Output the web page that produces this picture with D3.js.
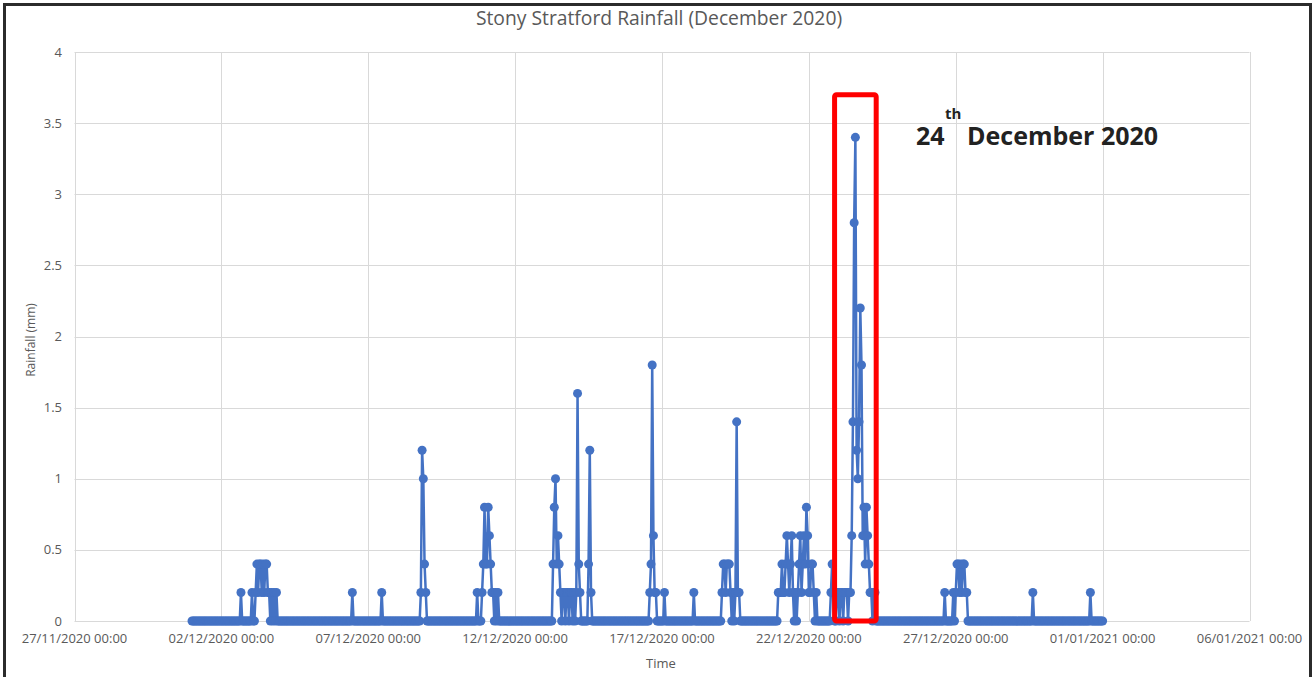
<!DOCTYPE html>
<html lang="en">
<head>
<meta charset="UTF-8">
<title>Stony Stratford Rainfall</title>
<style>
    body { margin: 0; background: #fff; }
    svg { display: block; }
    text { font-family: "Open Sans", sans-serif; fill: #595959; }
    .grid line { stroke: #d9d9d9; stroke-width: 1; }
    .note { fill: #222; font-weight: bold; }
</style>
</head>
<body>
<svg width="1314" height="677"></svg>

<script src="https://d3js.org/d3.v7.min.js"></script>
<script>
    // hourly readings, Dec 2020; hours not listed below read 0 mm
    var seriesStart = "01/12/2020 00:00",
        seriesEnd = "01/01/2021 00:00";

    // each run: start hour, then consecutive hourly rainfall (mm)
    var runStarts = [
        "02/12/2020 16:00", "03/12/2020 01:00", "06/12/2020 11:00", "07/12/2020 11:00",
        "08/12/2020 19:00", "10/12/2020 17:00", "10/12/2020 21:00", "11/12/2020 10:00",
        "13/12/2020 07:00", "14/12/2020 12:00", "16/12/2020 14:00", "17/12/2020 02:00",
        "18/12/2020 02:00", "19/12/2020 01:00", "20/12/2020 23:00", "22/12/2020 18:00",
        "26/12/2020 15:00", "26/12/2020 22:00", "29/12/2020 15:00", "31/12/2020 14:00"
    ];
    var runValues = [
        [0.2],
        [0.2, 0, 0, 0.2, 0.4, 0.2, 0.4, 0.4, 0.2, 0.4, 0.2, 0.4, 0.4, 0.2, 0.2, 0, 0.2, 0, 0.2, 0, 0.2],
        [0.2],
        [0.2],
        [0.2, 1.2, 1.0, 0.4, 0.2],
        [0.2],
        [0.2, 0.4, 0.8, 0.4, 0.4, 0.8, 0.6, 0.4, 0.2, 0.2, 0, 0.2],
        [0.2],
        [0.4, 0.8, 1.0, 0.4, 0.6, 0.4, 0.2, 0, 0.2, 0.2, 0, 0.2, 0.2, 0, 0.2, 0.2, 0, 0.2, 0, 0.2, 1.6, 0.4, 0.2],
        [0.4, 1.2, 0.2],
        [0.2, 0.4, 1.8, 0.6, 0.2, 0.2],
        [0.2],
        [0.2],
        [0.2, 0.4, 0.4, 0.2, 0.4, 0.4, 0.4, 0.2, 0, 0.2, 0, 0.2, 1.4, 0.2, 0.2],
        [0.2, 0.2, 0.2, 0.4, 0.2, 0.2, 0.4, 0.6, 0.4, 0.2, 0.4, 0.6, 0.2, 0, 0.2, 0, 0.2, 0.4, 0.6, 0.2,
         0.4, 0.6, 0.4, 0.8, 0.6, 0.2, 0.2, 0.4, 0.4, 0.2, 0, 0.2],
        [0.2, 0.4, 0.2, 0, 0, 0.2, 0.2, 0, 0.2, 0.2, 0, 0.2, 0.2, 0.2, 0, 0.2, 0.2, 0.6, 1.4, 2.8, 3.4,
         1.2, 1.0, 1.4, 2.2, 1.8, 0.6, 0.8, 0.4, 0.8, 0.6, 0.4, 0.2, 0.2, 0, 0.2, 0.2],
        [0.2],
        [0.2, 0, 0.2, 0.4, 0.4, 0.2, 0.4, 0.2, 0.4, 0.4, 0.2, 0.2],
        [0.2],
        [0.2]
    ];

    var xTicks = ["27/11/2020 00:00", "02/12/2020 00:00", "07/12/2020 00:00", "12/12/2020 00:00",
        "17/12/2020 00:00", "22/12/2020 00:00", "27/12/2020 00:00", "01/01/2021 00:00", "06/01/2021 00:00"];
    var yTicks = [0, 0.5, 1, 1.5, 2, 2.5, 3, 3.5, 4];

    // red box around the big day
    var highlightFrom = "22/12/2020 21:00",
        highlightTo = "24/12/2020 07:00",
        highlightTop = 3.7;

    var parse = d3.utcParse("%d/%m/%Y %H:%M");

    var readings = new Map();
    runStarts.forEach(function (s, i) {
        var t0 = parse(s);
        runValues[i].forEach(function (v, j) {
            readings.set(+d3.utcHour.offset(t0, j), v);
        });
    });

    var series = d3.utcHour.range(parse(seriesStart), d3.utcHour.offset(parse(seriesEnd), 1))
        .map(function (t) { return { t: t, v: readings.has(+t) ? readings.get(+t) : 0 }; });

    var svg = d3.select("svg");

    var x = d3.scaleUtc()
        .domain([parse(xTicks[0]), parse(xTicks[xTicks.length - 1])])
        .range([74.5, 1249.5]);

    var y = d3.scaleLinear()
        .domain([0, 4])
        .range([621, 52]);

    // frame
    svg.append("rect")
        .attr("x", 4.5).attr("y", 4.5)
        .attr("width", 1306).attr("height", 700)
        .attr("fill", "none")
        .attr("stroke", "#2b2b2b")
        .attr("stroke-width", 3);

    var grid = svg.append("g").attr("class", "grid");

    grid.selectAll(".h").data(yTicks).enter().append("line")
        .attr("x1", x.range()[0]).attr("x2", x.range()[1])
        .attr("y1", function (d) { return Math.round(y(d)) + 0.5; })
        .attr("y2", function (d) { return Math.round(y(d)) + 0.5; });

    grid.selectAll(".v").data(xTicks).enter().append("line")
        .attr("x1", function (d) { return Math.round(x(parse(d))) + 0.5; })
        .attr("x2", function (d) { return Math.round(x(parse(d))) + 0.5; })
        .attr("y1", y(4)).attr("y2", y(0));

    // y axis labels
    svg.append("g").selectAll("text").data(yTicks).enter().append("text")
        .attr("x", 62)
        .attr("y", function (d) { return y(d); })
        .attr("dy", "0.35em")
        .attr("text-anchor", "end")
        .style("font-size", "13px")
        .text(function (d) { return d; });

    // x axis labels
    svg.append("g").selectAll("text").data(xTicks).enter().append("text")
        .attr("x", function (d) { return x(parse(d)); })
        .attr("y", 643)
        .attr("text-anchor", "middle")
        .style("font-size", "13px")
        .text(function (d) { return d; });

    svg.append("text")
        .attr("x", 659).attr("y", 25)
        .attr("text-anchor", "middle")
        .style("font-size", "19.3px")
        .text("Stony Stratford Rainfall (December 2020)");

    svg.append("text")
        .attr("x", 661).attr("y", 668)
        .attr("text-anchor", "middle")
        .style("font-size", "13px")
        .text("Time");

    svg.append("text")
        .attr("transform", "translate(35,340) rotate(-90)")
        .attr("text-anchor", "middle")
        .style("font-size", "12px")
        .text("Rainfall (mm)");

    // series
    var line = d3.line()
        .x(function (d) { return x(d.t); })
        .y(function (d) { return y(d.v); });

    svg.append("path")
        .datum(series)
        .attr("d", line)
        .attr("fill", "none")
        .attr("stroke", "#4472c4")
        .attr("stroke-width", 2.5)
        .attr("stroke-linejoin", "round");

    svg.append("g").selectAll("circle").data(series).enter().append("circle")
        .attr("cx", function (d) { return x(d.t); })
        .attr("cy", function (d) { return y(d.v); })
        .attr("r", 4.5)
        .attr("fill", "#4472c4");

    // highlight box
    svg.append("rect")
        .attr("x", x(parse(highlightFrom)))
        .attr("y", y(highlightTop))
        .attr("width", x(parse(highlightTo)) - x(parse(highlightFrom)))
        .attr("height", y(0) - y(highlightTop))
        .attr("rx", 2)
        .attr("fill", "none")
        .attr("stroke", "#ff0000")
        .attr("stroke-width", 5);

    svg.append("text").attr("class", "note")
        .attr("x", 916).attr("y", 145)
        .style("font-size", "25px")
        .text("24");
    svg.append("text").attr("class", "note")
        .attr("x", 945).attr("y", 119)
        .style("font-size", "15px")
        .text("th");
    svg.append("text").attr("class", "note")
        .attr("x", 967).attr("y", 145)
        .style("font-size", "25px")
        .text("December 2020");
</script>
</body>
</html>
